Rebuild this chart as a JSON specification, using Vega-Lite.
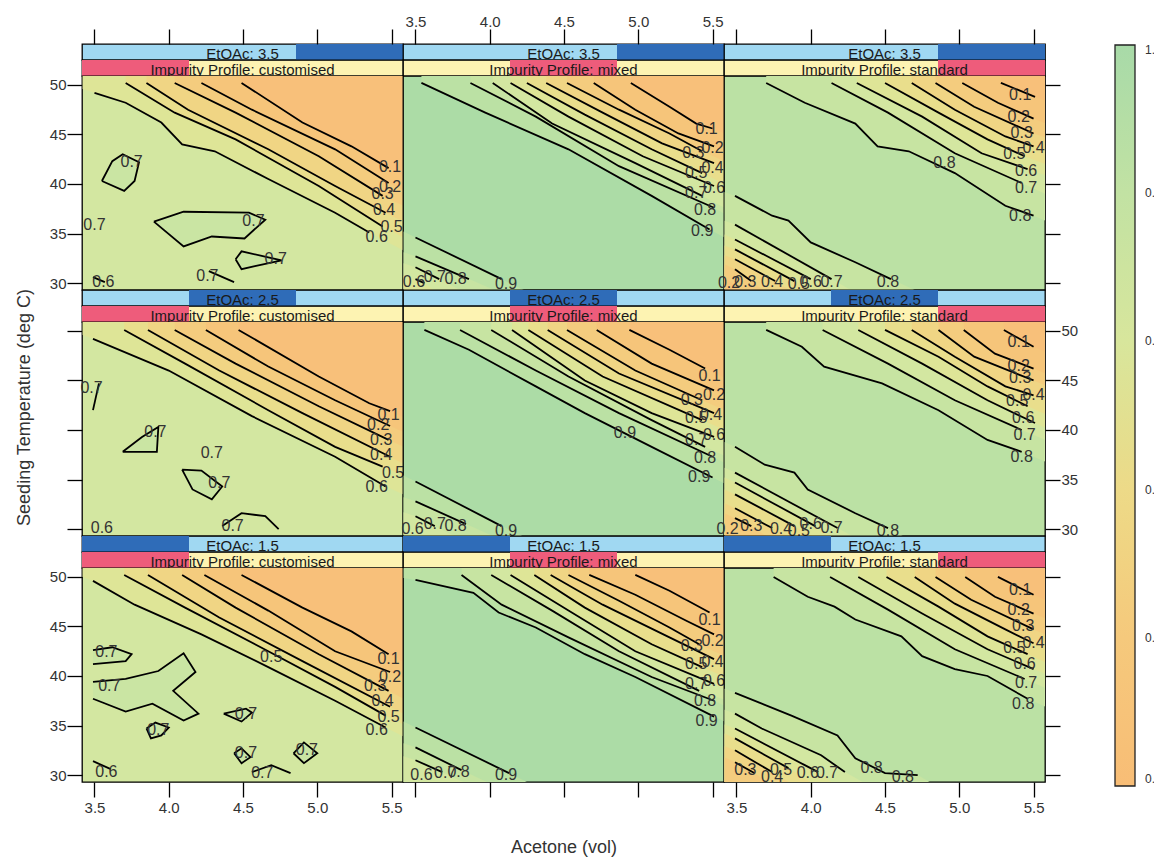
{
"$schema":"https://vega.github.io/schema/vega-lite/v6.json",
"padding":{"left":14,"top":13,"right":0,"bottom":0},
"background":"white",
"config":{
 "font":"Liberation Sans",
 "view":{"stroke":"black","strokeWidth":1.3},
 "axis":{"domain":false,"grid":false,"tickSize":15,"tickColor":"black","tickWidth":1.3,"labelFontSize":15,"labelColor":"#333","labelFont":"Liberation Sans","titleFont":"Liberation Sans","titleFontSize":18,"titleFontWeight":"normal","titleColor":"#333"}
},
"datasets":{
"st":[
{"p":"11","k":"E","lv":"3.5","lab":"EtOAc: 3.5"},{"p":"11","k":"I","lv":"customised","lab":"Impurity Profile: customised"},
{"p":"12","k":"E","lv":"3.5","lab":"EtOAc: 3.5"},{"p":"12","k":"I","lv":"mixed","lab":"Impurity Profile: mixed"},
{"p":"13","k":"E","lv":"3.5","lab":"EtOAc: 3.5"},{"p":"13","k":"I","lv":"standard","lab":"Impurity Profile: standard"},
{"p":"21","k":"E","lv":"2.5","lab":"EtOAc: 2.5"},{"p":"21","k":"I","lv":"customised","lab":"Impurity Profile: customised"},
{"p":"22","k":"E","lv":"2.5","lab":"EtOAc: 2.5"},{"p":"22","k":"I","lv":"mixed","lab":"Impurity Profile: mixed"},
{"p":"23","k":"E","lv":"2.5","lab":"EtOAc: 2.5"},{"p":"23","k":"I","lv":"standard","lab":"Impurity Profile: standard"},
{"p":"31","k":"E","lv":"1.5","lab":"EtOAc: 1.5"},{"p":"31","k":"I","lv":"customised","lab":"Impurity Profile: customised"},
{"p":"32","k":"E","lv":"1.5","lab":"EtOAc: 1.5"},{"p":"32","k":"I","lv":"mixed","lab":"Impurity Profile: mixed"},
{"p":"33","k":"E","lv":"1.5","lab":"EtOAc: 1.5"},{"p":"33","k":"I","lv":"standard","lab":"Impurity Profile: standard"}
],
"cb":[{"m":0},{"m":1}],
"c":[
{"p":"11","g":"a4","a":3.42,"t":49.6,"e":1},{"p":"11","g":"a4","a":3.5,"t":49.2},{"p":"11","g":"a4","a":3.71,"t":48.2},{"p":"11","g":"a4","a":3.95,"t":46.2},{"p":"11","g":"a4","a":4.09,"t":44.0},{"p":"11","g":"a4","a":4.31,"t":43.3},{"p":"11","g":"a4","a":4.67,"t":40.5},{"p":"11","g":"a4","a":5.12,"t":37.1},{"p":"11","g":"a4","a":5.35,"t":35.1},{"p":"11","g":"a4","a":5.58,"t":33.3,"e":1},
{"p":"11","g":"a5","a":3.71,"t":50.2},{"p":"11","g":"a5","a":4.04,"t":47.2},{"p":"11","g":"a5","a":4.45,"t":44.5},{"p":"11","g":"a5","a":5.01,"t":39.8},{"p":"11","g":"a5","a":5.44,"t":35.7},{"p":"11","g":"a5","a":5.58,"t":34.6,"e":1},
{"p":"11","g":"a6","a":3.85,"t":50.2},{"p":"11","g":"a6","a":4.13,"t":47.5},{"p":"11","g":"a6","a":4.67,"t":43.5},{"p":"11","g":"a6","a":5.12,"t":39.8},{"p":"11","g":"a6","a":5.46,"t":37.1},{"p":"11","g":"a6","a":5.58,"t":36.2,"e":1},
{"p":"11","g":"a7","a":4.04,"t":50.2},{"p":"11","g":"a7","a":4.45,"t":47.2},{"p":"11","g":"a7","a":5.01,"t":42.8},{"p":"11","g":"a7","a":5.44,"t":38.8},{"p":"11","g":"a7","a":5.58,"t":37.8,"e":1},
{"p":"11","g":"a8","a":4.22,"t":50.2},{"p":"11","g":"a8","a":4.56,"t":47.5},{"p":"11","g":"a8","a":5.12,"t":43.5},{"p":"11","g":"a8","a":5.48,"t":40.1},{"p":"11","g":"a8","a":5.58,"t":39.4,"e":1},
{"p":"11","g":"a9","a":4.49,"t":50.2},{"p":"11","g":"a9","a":4.9,"t":46.2},{"p":"11","g":"a9","a":5.23,"t":43.8},{"p":"11","g":"a9","a":5.48,"t":41.6},{"p":"11","g":"a9","a":5.58,"t":40.9,"e":1},

{"p":"12","g":"a1","a":3.54,"t":50.2},{"p":"12","g":"a1","a":3.97,"t":47.2},{"p":"12","g":"a1","a":4.53,"t":43.5},{"p":"12","g":"a1","a":5.09,"t":38.8},{"p":"12","g":"a1","a":5.48,"t":35.4},{"p":"12","g":"a1","a":5.58,"t":34.6,"e":1},
{"p":"12","g":"a2","a":3.87,"t":50.2},{"p":"12","g":"a2","a":4.31,"t":46.8},{"p":"12","g":"a2","a":4.87,"t":41.8},{"p":"12","g":"a2","a":5.51,"t":37.6},{"p":"12","g":"a2","a":5.58,"t":37.0,"e":1},
{"p":"12","g":"a3","a":4.02,"t":50.2},{"p":"12","g":"a3","a":4.42,"t":46.1},{"p":"12","g":"a3","a":4.98,"t":42.1},{"p":"12","g":"a3","a":5.43,"t":38.8},{"p":"12","g":"a3","a":5.58,"t":37.6,"e":1},
{"p":"12","g":"a4","a":4.14,"t":50.2},{"p":"12","g":"a4","a":4.53,"t":46.8},{"p":"12","g":"a4","a":5.03,"t":42.8},{"p":"12","g":"a4","a":5.51,"t":39.8},{"p":"12","g":"a4","a":5.58,"t":39.2,"e":1},
{"p":"12","g":"a5","a":4.25,"t":50.2},{"p":"12","g":"a5","a":4.64,"t":47.0},{"p":"12","g":"a5","a":5.09,"t":43.5},{"p":"12","g":"a5","a":5.43,"t":41.1},{"p":"12","g":"a5","a":5.58,"t":40.0,"e":1},
{"p":"12","g":"a6","a":4.38,"t":50.2},{"p":"12","g":"a6","a":4.76,"t":47.2},{"p":"12","g":"a6","a":5.16,"t":44.1},{"p":"12","g":"a6","a":5.51,"t":42.1},{"p":"12","g":"a6","a":5.58,"t":41.6,"e":1},
{"p":"12","g":"a7","a":4.52,"t":50.2},{"p":"12","g":"a7","a":4.87,"t":47.5},{"p":"12","g":"a7","a":5.21,"t":45.1},{"p":"12","g":"a7","a":5.43,"t":43.3},{"p":"12","g":"a7","a":5.58,"t":42.3,"e":1},
{"p":"12","g":"a8","a":4.7,"t":50.2},{"p":"12","g":"a8","a":4.98,"t":47.5},{"p":"12","g":"a8","a":5.27,"t":45.1},{"p":"12","g":"a8","a":5.51,"t":43.8},{"p":"12","g":"a8","a":5.58,"t":43.3,"e":1},
{"p":"12","g":"a9","a":4.95,"t":50.2},{"p":"12","g":"a9","a":5.21,"t":47.8},{"p":"12","g":"a9","a":5.39,"t":46.1},{"p":"12","g":"a9","a":5.5,"t":45.6},{"p":"12","g":"a9","a":5.58,"t":45.1,"e":1},
{"p":"12","g":"b1","a":3.42,"t":35.2,"e":1},{"p":"12","g":"b1","a":3.5,"t":34.6},{"p":"12","g":"b1","a":4.08,"t":30.4},{"p":"12","g":"b1","a":4.23,"t":29.3,"e":1},
{"p":"12","g":"b2","a":3.42,"t":33.1,"e":1},{"p":"12","g":"b2","a":3.5,"t":32.7},{"p":"12","g":"b2","a":3.86,"t":30.4},{"p":"12","g":"b2","a":4.03,"t":29.3,"e":1},
{"p":"12","g":"b3","a":3.42,"t":32.0,"e":1},{"p":"12","g":"b3","a":3.5,"t":31.6},{"p":"12","g":"b3","a":3.66,"t":30.4},{"p":"12","g":"b3","a":3.8,"t":29.3,"e":1},
{"p":"12","g":"b4","a":3.42,"t":30.7,"e":1},{"p":"12","g":"b4","a":3.5,"t":30.4},{"p":"12","g":"b4","a":3.56,"t":30.0},{"p":"12","g":"b4","a":3.62,"t":29.3,"e":1},

{"p":"13","g":"a2","a":3.7,"t":50.2},{"p":"13","g":"a2","a":3.96,"t":48.2},{"p":"13","g":"a2","a":4.3,"t":46.1},{"p":"13","g":"a2","a":4.45,"t":43.8},{"p":"13","g":"a2","a":4.66,"t":43.3},{"p":"13","g":"a2","a":4.97,"t":41.1},{"p":"13","g":"a2","a":5.31,"t":37.8},{"p":"13","g":"a2","a":5.5,"t":36.8},{"p":"13","g":"a2","a":5.58,"t":36.3,"e":1},
{"p":"13","g":"a3","a":4.14,"t":50.2},{"p":"13","g":"a3","a":4.52,"t":47.2},{"p":"13","g":"a3","a":4.97,"t":43.1},{"p":"13","g":"a3","a":5.42,"t":40.1},{"p":"13","g":"a3","a":5.58,"t":39.0,"e":1},
{"p":"13","g":"a4","a":4.31,"t":50.2},{"p":"13","g":"a4","a":4.75,"t":46.8},{"p":"13","g":"a4","a":5.15,"t":43.1},{"p":"13","g":"a4","a":5.46,"t":41.5},{"p":"13","g":"a4","a":5.58,"t":40.9,"e":1},
{"p":"13","g":"a5","a":4.5,"t":50.2},{"p":"13","g":"a5","a":4.86,"t":47.2},{"p":"13","g":"a5","a":5.19,"t":44.5},{"p":"13","g":"a5","a":5.44,"t":42.8},{"p":"13","g":"a5","a":5.58,"t":42.0,"e":1},
{"p":"13","g":"a6","a":4.68,"t":50.2},{"p":"13","g":"a6","a":4.97,"t":47.5},{"p":"13","g":"a6","a":5.31,"t":44.8},{"p":"13","g":"a6","a":5.5,"t":43.8},{"p":"13","g":"a6","a":5.58,"t":43.4,"e":1},
{"p":"13","g":"a7","a":4.84,"t":50.2},{"p":"13","g":"a7","a":5.1,"t":47.8},{"p":"13","g":"a7","a":5.5,"t":45.1},{"p":"13","g":"a7","a":5.58,"t":44.7,"e":1},
{"p":"13","g":"a8","a":5.02,"t":50.2},{"p":"13","g":"a8","a":5.26,"t":48.2},{"p":"13","g":"a8","a":5.5,"t":46.6},{"p":"13","g":"a8","a":5.58,"t":46.1,"e":1},
{"p":"13","g":"a9","a":5.28,"t":50.2},{"p":"13","g":"a9","a":5.51,"t":48.8},{"p":"13","g":"a9","a":5.58,"t":48.4,"e":1},
{"p":"13","g":"b2","a":3.42,"t":39.2,"e":1},{"p":"13","g":"b2","a":3.49,"t":38.8},{"p":"13","g":"b2","a":3.74,"t":36.8},{"p":"13","g":"b2","a":3.85,"t":36.3},{"p":"13","g":"b2","a":4.0,"t":34.1},{"p":"13","g":"b2","a":4.3,"t":32.1},{"p":"13","g":"b2","a":4.54,"t":30.4},{"p":"13","g":"b2","a":4.7,"t":29.3,"e":1},
{"p":"13","g":"b3","a":3.42,"t":36.3,"e":1},{"p":"13","g":"b3","a":3.49,"t":35.9},{"p":"13","g":"b3","a":4.14,"t":30.4},{"p":"13","g":"b3","a":4.27,"t":29.3,"e":1},
{"p":"13","g":"b4","a":3.42,"t":34.9,"e":1},{"p":"13","g":"b4","a":3.49,"t":34.4},{"p":"13","g":"b4","a":4.0,"t":30.4},{"p":"13","g":"b4","a":4.14,"t":29.3,"e":1},
{"p":"13","g":"b5","a":3.42,"t":33.8,"e":1},{"p":"13","g":"b5","a":3.49,"t":33.4},{"p":"13","g":"b5","a":3.89,"t":30.2},{"p":"13","g":"b5","a":4.0,"t":29.3,"e":1},
{"p":"13","g":"b6","a":3.42,"t":32.8,"e":1},{"p":"13","g":"b6","a":3.49,"t":32.4},{"p":"13","g":"b6","a":3.76,"t":30.2},{"p":"13","g":"b6","a":3.86,"t":29.3,"e":1},
{"p":"13","g":"b7","a":3.42,"t":31.9,"e":1},{"p":"13","g":"b7","a":3.49,"t":31.4},{"p":"13","g":"b7","a":3.6,"t":30.2},{"p":"13","g":"b7","a":3.68,"t":29.3,"e":1},
{"p":"13","g":"b8","a":3.42,"t":30.6,"e":1},{"p":"13","g":"b8","a":3.46,"t":30.1},{"p":"13","g":"b8","a":3.52,"t":29.3,"e":1},

{"p":"21","g":"a4","a":3.42,"t":49.6,"e":1},{"p":"21","g":"a4","a":3.49,"t":49.2},{"p":"21","g":"a4","a":4.0,"t":46.0},{"p":"21","g":"a4","a":4.56,"t":41.4},{"p":"21","g":"a4","a":5.12,"t":37.3},{"p":"21","g":"a4","a":5.46,"t":34.3},{"p":"21","g":"a4","a":5.58,"t":33.5,"e":1},
{"p":"21","g":"a5","a":3.7,"t":50.1},{"p":"21","g":"a5","a":4.11,"t":46.7},{"p":"21","g":"a5","a":4.67,"t":42.0},{"p":"21","g":"a5","a":5.12,"t":38.3},{"p":"21","g":"a5","a":5.44,"t":36.3},{"p":"21","g":"a5","a":5.58,"t":35.4,"e":1},
{"p":"21","g":"a6","a":3.86,"t":50.1},{"p":"21","g":"a6","a":4.34,"t":46.0},{"p":"21","g":"a6","a":4.9,"t":41.7},{"p":"21","g":"a6","a":5.49,"t":37.3},{"p":"21","g":"a6","a":5.58,"t":36.6,"e":1},
{"p":"21","g":"a7","a":4.04,"t":50.1},{"p":"21","g":"a7","a":4.45,"t":46.7},{"p":"21","g":"a7","a":5.01,"t":42.4},{"p":"21","g":"a7","a":5.48,"t":39.0},{"p":"21","g":"a7","a":5.58,"t":38.3,"e":1},
{"p":"21","g":"a8","a":4.25,"t":50.1},{"p":"21","g":"a8","a":4.67,"t":46.4},{"p":"21","g":"a8","a":5.12,"t":43.0},{"p":"21","g":"a8","a":5.49,"t":40.4},{"p":"21","g":"a8","a":5.58,"t":39.8,"e":1},
{"p":"21","g":"a9","a":4.47,"t":50.1},{"p":"21","g":"a9","a":5.01,"t":45.4},{"p":"21","g":"a9","a":5.35,"t":42.7},{"p":"21","g":"a9","a":5.49,"t":41.9},{"p":"21","g":"a9","a":5.58,"t":41.3,"e":1},

{"p":"22","g":"a1","a":3.56,"t":50.1},{"p":"22","g":"a1","a":3.86,"t":48.1},{"p":"22","g":"a1","a":4.31,"t":44.4},{"p":"22","g":"a1","a":4.64,"t":41.7},{"p":"22","g":"a1","a":5.09,"t":38.3},{"p":"22","g":"a1","a":5.5,"t":35.2},{"p":"22","g":"a1","a":5.58,"t":34.6,"e":1},
{"p":"22","g":"a2","a":3.8,"t":50.1},{"p":"22","g":"a2","a":4.31,"t":46.0},{"p":"22","g":"a2","a":4.87,"t":41.7},{"p":"22","g":"a2","a":5.5,"t":37.3},{"p":"22","g":"a2","a":5.58,"t":36.7,"e":1},
{"p":"22","g":"a3","a":4.01,"t":50.1},{"p":"22","g":"a3","a":4.53,"t":45.4},{"p":"22","g":"a3","a":5.09,"t":41.0},{"p":"22","g":"a3","a":5.45,"t":38.3},{"p":"22","g":"a3","a":5.58,"t":37.4,"e":1},
{"p":"22","g":"a4","a":4.15,"t":50.1},{"p":"22","g":"a4","a":4.64,"t":45.0},{"p":"22","g":"a4","a":5.09,"t":41.7},{"p":"22","g":"a4","a":5.51,"t":39.3},{"p":"22","g":"a4","a":5.58,"t":38.8,"e":1},
{"p":"22","g":"a5","a":4.26,"t":50.1},{"p":"22","g":"a5","a":4.76,"t":45.4},{"p":"22","g":"a5","a":5.43,"t":41.0},{"p":"22","g":"a5","a":5.58,"t":40.0,"e":1},
{"p":"22","g":"a6","a":4.39,"t":50.1},{"p":"22","g":"a6","a":4.87,"t":45.7},{"p":"22","g":"a6","a":5.51,"t":41.7},{"p":"22","g":"a6","a":5.58,"t":41.2,"e":1},
{"p":"22","g":"a7","a":4.52,"t":50.1},{"p":"22","g":"a7","a":4.98,"t":46.0},{"p":"22","g":"a7","a":5.43,"t":43.0},{"p":"22","g":"a7","a":5.58,"t":42.0,"e":1},
{"p":"22","g":"a8","a":4.72,"t":50.1},{"p":"22","g":"a8","a":5.09,"t":46.7},{"p":"22","g":"a8","a":5.51,"t":44.0},{"p":"22","g":"a8","a":5.58,"t":43.5,"e":1},
{"p":"22","g":"a9","a":4.94,"t":50.1},{"p":"22","g":"a9","a":5.21,"t":48.1},{"p":"22","g":"a9","a":5.45,"t":46.2},{"p":"22","g":"a9","a":5.58,"t":45.3,"e":1},
{"p":"22","g":"b1","a":3.42,"t":35.4,"e":1},{"p":"22","g":"b1","a":3.5,"t":34.8},{"p":"22","g":"b1","a":4.08,"t":30.3},{"p":"22","g":"b1","a":4.22,"t":29.3,"e":1},
{"p":"22","g":"b2","a":3.42,"t":33.2,"e":1},{"p":"22","g":"b2","a":3.5,"t":32.8},{"p":"22","g":"b2","a":3.84,"t":30.5},{"p":"22","g":"b2","a":4.02,"t":29.3,"e":1},
{"p":"22","g":"b3","a":3.42,"t":31.7,"e":1},{"p":"22","g":"b3","a":3.5,"t":31.3},{"p":"22","g":"b3","a":3.63,"t":30.3},{"p":"22","g":"b3","a":3.76,"t":29.3,"e":1},

{"p":"23","g":"a2","a":3.7,"t":50.1},{"p":"23","g":"a2","a":3.94,"t":48.4},{"p":"23","g":"a2","a":4.09,"t":46.4},{"p":"23","g":"a2","a":4.48,"t":44.7},{"p":"23","g":"a2","a":4.86,"t":42.0},{"p":"23","g":"a2","a":5.19,"t":39.0},{"p":"23","g":"a2","a":5.42,"t":37.8},{"p":"23","g":"a2","a":5.58,"t":36.8,"e":1},
{"p":"23","g":"a3","a":4.08,"t":50.1},{"p":"23","g":"a3","a":4.52,"t":46.7},{"p":"23","g":"a3","a":4.97,"t":43.0},{"p":"23","g":"a3","a":5.42,"t":40.0},{"p":"23","g":"a3","a":5.58,"t":39.0,"e":1},
{"p":"23","g":"a4","a":4.32,"t":50.1},{"p":"23","g":"a4","a":4.75,"t":46.7},{"p":"23","g":"a4","a":5.19,"t":43.0},{"p":"23","g":"a4","a":5.51,"t":40.7},{"p":"23","g":"a4","a":5.58,"t":40.2,"e":1},
{"p":"23","g":"a5","a":4.5,"t":50.1},{"p":"23","g":"a5","a":4.86,"t":47.4},{"p":"23","g":"a5","a":5.19,"t":44.4},{"p":"23","g":"a5","a":5.46,"t":42.4},{"p":"23","g":"a5","a":5.58,"t":41.6,"e":1},
{"p":"23","g":"a6","a":4.68,"t":50.1},{"p":"23","g":"a6","a":4.97,"t":47.4},{"p":"23","g":"a6","a":5.31,"t":44.4},{"p":"23","g":"a6","a":5.5,"t":43.5},{"p":"23","g":"a6","a":5.58,"t":43.1,"e":1},
{"p":"23","g":"a7","a":4.86,"t":50.1},{"p":"23","g":"a7","a":5.1,"t":47.4},{"p":"23","g":"a7","a":5.5,"t":45.0},{"p":"23","g":"a7","a":5.58,"t":44.5,"e":1},
{"p":"23","g":"a8","a":5.03,"t":50.1},{"p":"23","g":"a8","a":5.24,"t":47.7},{"p":"23","g":"a8","a":5.5,"t":46.2},{"p":"23","g":"a8","a":5.58,"t":45.7,"e":1},
{"p":"23","g":"a9","a":5.3,"t":50.1},{"p":"23","g":"a9","a":5.5,"t":48.4},{"p":"23","g":"a9","a":5.58,"t":47.9,"e":1},
{"p":"23","g":"b2","a":3.42,"t":38.8,"e":1},{"p":"23","g":"b2","a":3.49,"t":38.3},{"p":"23","g":"b2","a":3.69,"t":36.5},{"p":"23","g":"b2","a":3.89,"t":35.7},{"p":"23","g":"b2","a":3.98,"t":34.0},{"p":"23","g":"b2","a":4.3,"t":31.6},{"p":"23","g":"b2","a":4.52,"t":30.1},{"p":"23","g":"b2","a":4.62,"t":29.3,"e":1},
{"p":"23","g":"b3","a":3.42,"t":36.2,"e":1},{"p":"23","g":"b3","a":3.49,"t":35.7},{"p":"23","g":"b3","a":4.18,"t":30.1},{"p":"23","g":"b3","a":4.28,"t":29.3,"e":1},
{"p":"23","g":"b4","a":3.42,"t":35.2,"e":1},{"p":"23","g":"b4","a":3.49,"t":34.7},{"p":"23","g":"b4","a":4.03,"t":30.3},{"p":"23","g":"b4","a":4.15,"t":29.3,"e":1},
{"p":"23","g":"b5","a":3.42,"t":34.0,"e":1},{"p":"23","g":"b5","a":3.49,"t":33.5},{"p":"23","g":"b5","a":3.89,"t":30.3},{"p":"23","g":"b5","a":4.01,"t":29.3,"e":1},
{"p":"23","g":"b6","a":3.42,"t":32.6,"e":1},{"p":"23","g":"b6","a":3.49,"t":32.1},{"p":"23","g":"b6","a":3.74,"t":30.1},{"p":"23","g":"b6","a":3.84,"t":29.3,"e":1},
{"p":"23","g":"b7","a":3.42,"t":31.6,"e":1},{"p":"23","g":"b7","a":3.49,"t":31.1},{"p":"23","g":"b7","a":3.6,"t":30.3},{"p":"23","g":"b7","a":3.7,"t":29.3,"e":1},

{"p":"31","g":"a4","a":3.42,"t":50.0,"e":1},{"p":"31","g":"a4","a":3.49,"t":49.6},{"p":"31","g":"a4","a":3.77,"t":47.2},{"p":"31","g":"a4","a":4.22,"t":44.2},{"p":"31","g":"a4","a":4.67,"t":40.9},{"p":"31","g":"a4","a":5.12,"t":37.5},{"p":"31","g":"a4","a":5.46,"t":34.8},{"p":"31","g":"a4","a":5.58,"t":33.9,"e":1},
{"p":"31","g":"a5","a":3.7,"t":50.2},{"p":"31","g":"a5","a":4.11,"t":46.9},{"p":"31","g":"a5","a":4.67,"t":42.5},{"p":"31","g":"a5","a":5.12,"t":38.9},{"p":"31","g":"a5","a":5.46,"t":36.0},{"p":"31","g":"a5","a":5.58,"t":35.1,"e":1},
{"p":"31","g":"a6","a":3.86,"t":50.2},{"p":"31","g":"a6","a":4.34,"t":45.9},{"p":"31","g":"a6","a":4.9,"t":41.5},{"p":"31","g":"a6","a":5.49,"t":36.9},{"p":"31","g":"a6","a":5.58,"t":36.2,"e":1},
{"p":"31","g":"a7","a":4.09,"t":50.2},{"p":"31","g":"a7","a":4.45,"t":46.9},{"p":"31","g":"a7","a":5.01,"t":42.2},{"p":"31","g":"a7","a":5.48,"t":38.5},{"p":"31","g":"a7","a":5.58,"t":37.7,"e":1},
{"p":"31","g":"a8","a":4.24,"t":50.2},{"p":"31","g":"a8","a":4.67,"t":46.6},{"p":"31","g":"a8","a":5.12,"t":42.5},{"p":"31","g":"a8","a":5.49,"t":40.4},{"p":"31","g":"a8","a":5.58,"t":39.8,"e":1},
{"p":"31","g":"a9","a":4.49,"t":50.2},{"p":"31","g":"a9","a":4.9,"t":46.9},{"p":"31","g":"a9","a":5.23,"t":44.5},{"p":"31","g":"a9","a":5.48,"t":42.2},{"p":"31","g":"a9","a":5.58,"t":41.4,"e":1},

{"p":"32","g":"a1","a":3.42,"t":49.9,"e":1},{"p":"32","g":"a1","a":3.5,"t":49.7},{"p":"32","g":"a1","a":3.89,"t":48.4},{"p":"32","g":"a1","a":4.06,"t":46.4},{"p":"32","g":"a1","a":4.31,"t":44.9},{"p":"32","g":"a1","a":4.64,"t":42.2},{"p":"32","g":"a1","a":4.98,"t":39.9},{"p":"32","g":"a1","a":5.51,"t":35.9},{"p":"32","g":"a1","a":5.58,"t":35.4,"e":1},
{"p":"32","g":"a2","a":3.81,"t":50.2},{"p":"32","g":"a2","a":4.08,"t":47.2},{"p":"32","g":"a2","a":4.53,"t":43.9},{"p":"32","g":"a2","a":5.09,"t":39.9},{"p":"32","g":"a2","a":5.51,"t":37.5},{"p":"32","g":"a2","a":5.58,"t":37.0,"e":1},
{"p":"32","g":"a3","a":4.01,"t":50.2},{"p":"32","g":"a3","a":4.42,"t":46.6},{"p":"32","g":"a3","a":4.87,"t":42.5},{"p":"32","g":"a3","a":5.41,"t":38.5},{"p":"32","g":"a3","a":5.58,"t":37.6,"e":1},
{"p":"32","g":"a4","a":4.14,"t":50.2},{"p":"32","g":"a4","a":4.53,"t":46.6},{"p":"32","g":"a4","a":4.98,"t":42.5},{"p":"32","g":"a4","a":5.51,"t":39.2},{"p":"32","g":"a4","a":5.58,"t":38.7,"e":1},
{"p":"32","g":"a5","a":4.3,"t":50.2},{"p":"32","g":"a5","a":4.64,"t":46.9},{"p":"32","g":"a5","a":5.09,"t":43.2},{"p":"32","g":"a5","a":5.43,"t":40.9},{"p":"32","g":"a5","a":5.58,"t":39.9,"e":1},
{"p":"32","g":"a6","a":4.41,"t":50.2},{"p":"32","g":"a6","a":4.76,"t":47.2},{"p":"32","g":"a6","a":5.21,"t":43.9},{"p":"32","g":"a6","a":5.51,"t":41.7},{"p":"32","g":"a6","a":5.58,"t":41.2,"e":1},
{"p":"32","g":"a7","a":4.53,"t":50.2},{"p":"32","g":"a7","a":4.87,"t":47.6},{"p":"32","g":"a7","a":5.21,"t":44.9},{"p":"32","g":"a7","a":5.41,"t":43.2},{"p":"32","g":"a7","a":5.58,"t":42.0,"e":1},
{"p":"32","g":"a8","a":4.67,"t":50.2},{"p":"32","g":"a8","a":4.98,"t":48.2},{"p":"32","g":"a8","a":5.32,"t":45.6},{"p":"32","g":"a8","a":5.51,"t":44.2},{"p":"32","g":"a8","a":5.58,"t":43.7,"e":1},
{"p":"32","g":"a9","a":4.98,"t":50.2},{"p":"32","g":"a9","a":5.21,"t":48.6},{"p":"32","g":"a9","a":5.48,"t":46.4},{"p":"32","g":"a9","a":5.58,"t":45.6,"e":1},
{"p":"32","g":"b1","a":3.42,"t":35.4,"e":1},{"p":"32","g":"b1","a":3.5,"t":34.8},{"p":"32","g":"b1","a":4.13,"t":30.2},{"p":"32","g":"b1","a":4.25,"t":29.3,"e":1},
{"p":"32","g":"b2","a":3.42,"t":33.2,"e":1},{"p":"32","g":"b2","a":3.5,"t":32.8},{"p":"32","g":"b2","a":3.81,"t":30.5},{"p":"32","g":"b2","a":3.98,"t":29.3,"e":1},
{"p":"32","g":"b3","a":3.42,"t":31.9,"e":1},{"p":"32","g":"b3","a":3.5,"t":31.5},{"p":"32","g":"b3","a":3.68,"t":30.3},{"p":"32","g":"b3","a":3.82,"t":29.3,"e":1},

{"p":"33","g":"a2","a":3.75,"t":50.0},{"p":"33","g":"a2","a":3.98,"t":48.0},{"p":"33","g":"a2","a":4.16,"t":47.0},{"p":"33","g":"a2","a":4.3,"t":45.7},{"p":"33","g":"a2","a":4.61,"t":44.0},{"p":"33","g":"a2","a":4.75,"t":42.0},{"p":"33","g":"a2","a":4.97,"t":40.7},{"p":"33","g":"a2","a":5.19,"t":40.0},{"p":"33","g":"a2","a":5.46,"t":37.7},{"p":"33","g":"a2","a":5.58,"t":36.9,"e":1},
{"p":"33","g":"a3","a":4.13,"t":50.0},{"p":"33","g":"a3","a":4.52,"t":46.7},{"p":"33","g":"a3","a":4.97,"t":42.7},{"p":"33","g":"a3","a":5.44,"t":39.7},{"p":"33","g":"a3","a":5.58,"t":38.8,"e":1},
{"p":"33","g":"a4","a":4.32,"t":50.0},{"p":"33","g":"a4","a":4.75,"t":46.3},{"p":"33","g":"a4","a":5.19,"t":42.7},{"p":"33","g":"a4","a":5.5,"t":40.7},{"p":"33","g":"a4","a":5.58,"t":40.2,"e":1},
{"p":"33","g":"a5","a":4.51,"t":50.0},{"p":"33","g":"a5","a":4.86,"t":47.0},{"p":"33","g":"a5","a":5.19,"t":44.0},{"p":"33","g":"a5","a":5.46,"t":42.2},{"p":"33","g":"a5","a":5.58,"t":41.4,"e":1},
{"p":"33","g":"a6","a":4.7,"t":50.0},{"p":"33","g":"a6","a":4.97,"t":47.3},{"p":"33","g":"a6","a":5.31,"t":44.7},{"p":"33","g":"a6","a":5.5,"t":43.3},{"p":"33","g":"a6","a":5.58,"t":42.8,"e":1},
{"p":"33","g":"a7","a":4.84,"t":50.0},{"p":"33","g":"a7","a":5.08,"t":47.7},{"p":"33","g":"a7","a":5.5,"t":44.7},{"p":"33","g":"a7","a":5.58,"t":44.2,"e":1},
{"p":"33","g":"a8","a":5.04,"t":50.0},{"p":"33","g":"a8","a":5.24,"t":48.0},{"p":"33","g":"a8","a":5.5,"t":46.3},{"p":"33","g":"a8","a":5.58,"t":45.8,"e":1},
{"p":"33","g":"a9","a":5.26,"t":50.0},{"p":"33","g":"a9","a":5.5,"t":48.2},{"p":"33","g":"a9","a":5.58,"t":47.7,"e":1},
{"p":"33","g":"b2","a":3.42,"t":38.7,"e":1},{"p":"33","g":"b2","a":3.49,"t":38.3},{"p":"33","g":"b2","a":3.87,"t":36.0},{"p":"33","g":"b2","a":4.18,"t":34.0},{"p":"33","g":"b2","a":4.3,"t":31.7},{"p":"33","g":"b2","a":4.5,"t":30.2},{"p":"33","g":"b2","a":4.72,"t":30.0},{"p":"33","g":"b2","a":4.8,"t":29.3,"e":1},
{"p":"33","g":"b3","a":3.42,"t":36.6,"e":1},{"p":"33","g":"b3","a":3.49,"t":36.2},{"p":"33","g":"b3","a":3.67,"t":34.7},{"p":"33","g":"b3","a":4.07,"t":32.0},{"p":"33","g":"b3","a":4.23,"t":30.3},{"p":"33","g":"b3","a":4.35,"t":29.3,"e":1},
{"p":"33","g":"b4","a":3.42,"t":35.1,"e":1},{"p":"33","g":"b4","a":3.49,"t":34.7},{"p":"33","g":"b4","a":3.96,"t":31.0},{"p":"33","g":"b4","a":4.05,"t":30.3},{"p":"33","g":"b4","a":4.14,"t":29.3,"e":1},
{"p":"33","g":"b5","a":3.42,"t":34.2,"e":1},{"p":"33","g":"b5","a":3.49,"t":33.7},{"p":"33","g":"b5","a":3.85,"t":30.7},{"p":"33","g":"b5","a":4.0,"t":29.3,"e":1},
{"p":"33","g":"b6","a":3.42,"t":32.9,"e":1},{"p":"33","g":"b6","a":3.49,"t":32.5},{"p":"33","g":"b6","a":3.74,"t":30.3},{"p":"33","g":"b6","a":3.85,"t":29.3,"e":1},
{"p":"33","g":"b7","a":3.42,"t":31.8,"e":1},{"p":"33","g":"b7","a":3.49,"t":31.3},{"p":"33","g":"b7","a":3.62,"t":30.2},{"p":"33","g":"b7","a":3.71,"t":29.3,"e":1}
],
"s":[
{"p":"11","g":"i1","k":"c","a":3.55,"t":40.3},{"p":"11","g":"i1","k":"c","a":3.62,"t":42.3},{"p":"11","g":"i1","k":"c","a":3.69,"t":43.0},{"p":"11","g":"i1","k":"c","a":3.8,"t":42.2},{"p":"11","g":"i1","k":"c","a":3.77,"t":40.3},{"p":"11","g":"i1","k":"c","a":3.7,"t":39.3},{"p":"11","g":"i1","k":"c","a":3.55,"t":40.3},
{"p":"11","g":"i2","k":"c","a":3.9,"t":36.2},{"p":"11","g":"i2","k":"c","a":4.1,"t":37.2},{"p":"11","g":"i2","k":"c","a":4.54,"t":37.1},{"p":"11","g":"i2","k":"c","a":4.65,"t":36.4},{"p":"11","g":"i2","k":"c","a":4.51,"t":34.5},{"p":"11","g":"i2","k":"c","a":4.29,"t":34.7},{"p":"11","g":"i2","k":"c","a":4.1,"t":33.7},{"p":"11","g":"i2","k":"c","a":3.9,"t":36.2},
{"p":"11","g":"i3","k":"c","a":4.45,"t":32.4},{"p":"11","g":"i3","k":"c","a":4.49,"t":33.2},{"p":"11","g":"i3","k":"c","a":4.67,"t":32.6},{"p":"11","g":"i3","k":"c","a":4.76,"t":32.3},{"p":"11","g":"i3","k":"c","a":4.58,"t":31.7},{"p":"11","g":"i3","k":"c","a":4.49,"t":31.4},{"p":"11","g":"i3","k":"c","a":4.45,"t":32.4},
{"p":"11","g":"o1","k":"o","a":4.27,"t":31.2},{"p":"11","g":"o1","k":"o","a":4.44,"t":30.1},
{"p":"11","g":"o2","k":"o","a":3.49,"t":30.6},{"p":"11","g":"o2","k":"o","a":3.57,"t":30.1},
{"p":"21","g":"i1","k":"c","a":3.69,"t":37.8},{"p":"21","g":"i1","k":"c","a":3.82,"t":39.3},{"p":"21","g":"i1","k":"c","a":3.93,"t":40.3},{"p":"21","g":"i1","k":"c","a":3.92,"t":37.8},{"p":"21","g":"i1","k":"c","a":3.69,"t":37.8},
{"p":"21","g":"i2","k":"c","a":4.09,"t":36.0},{"p":"21","g":"i2","k":"c","a":4.22,"t":35.9},{"p":"21","g":"i2","k":"c","a":4.36,"t":34.3},{"p":"21","g":"i2","k":"c","a":4.29,"t":33.0},{"p":"21","g":"i2","k":"c","a":4.16,"t":34.0},{"p":"21","g":"i2","k":"c","a":4.09,"t":36.0},
{"p":"21","g":"o1","k":"o","a":3.53,"t":44.7},{"p":"21","g":"o1","k":"o","a":3.49,"t":42.0},
{"p":"21","g":"o2","k":"o","a":4.36,"t":30.3},{"p":"21","g":"o2","k":"o","a":4.49,"t":31.6},{"p":"21","g":"o2","k":"o","a":4.65,"t":31.3},{"p":"21","g":"o2","k":"o","a":4.74,"t":30.0},
{"p":"31","g":"i1","k":"c","a":3.49,"t":39.4},{"p":"31","g":"i1","k":"c","a":3.71,"t":39.7},{"p":"31","g":"i1","k":"c","a":3.93,"t":40.5},{"p":"31","g":"i1","k":"c","a":4.1,"t":42.3},{"p":"31","g":"i1","k":"c","a":4.18,"t":40.4},{"p":"31","g":"i1","k":"c","a":4.03,"t":38.5},{"p":"31","g":"i1","k":"c","a":4.2,"t":36.2},{"p":"31","g":"i1","k":"c","a":4.1,"t":35.5},{"p":"31","g":"i1","k":"c","a":3.89,"t":37.2},{"p":"31","g":"i1","k":"c","a":3.71,"t":36.4},{"p":"31","g":"i1","k":"c","a":3.49,"t":37.7},
{"p":"31","g":"i2","k":"c","a":3.49,"t":42.6},{"p":"31","g":"i2","k":"c","a":3.62,"t":42.9},{"p":"31","g":"i2","k":"c","a":3.75,"t":42.2},{"p":"31","g":"i2","k":"c","a":3.71,"t":41.5},{"p":"31","g":"i2","k":"c","a":3.49,"t":41.2},
{"p":"31","g":"i3","k":"c","a":3.85,"t":34.7},{"p":"31","g":"i3","k":"c","a":3.91,"t":35.3},{"p":"31","g":"i3","k":"c","a":4.0,"t":34.8},{"p":"31","g":"i3","k":"c","a":3.95,"t":34.0},{"p":"31","g":"i3","k":"c","a":3.88,"t":33.7},{"p":"31","g":"i3","k":"c","a":3.85,"t":34.7},
{"p":"31","g":"i4","k":"c","a":4.37,"t":36.2},{"p":"31","g":"i4","k":"c","a":4.52,"t":36.7},{"p":"31","g":"i4","k":"c","a":4.56,"t":36.3},{"p":"31","g":"i4","k":"c","a":4.49,"t":35.4},{"p":"31","g":"i4","k":"c","a":4.37,"t":36.2},
{"p":"31","g":"i5","k":"c","a":4.44,"t":32.2},{"p":"31","g":"i5","k":"c","a":4.49,"t":32.7},{"p":"31","g":"i5","k":"c","a":4.55,"t":31.8},{"p":"31","g":"i5","k":"c","a":4.49,"t":31.2},{"p":"31","g":"i5","k":"c","a":4.44,"t":32.2},
{"p":"31","g":"i6","k":"c","a":4.84,"t":32.2},{"p":"31","g":"i6","k":"c","a":4.91,"t":33.3},{"p":"31","g":"i6","k":"c","a":5.0,"t":32.2},{"p":"31","g":"i6","k":"c","a":4.91,"t":31.2},{"p":"31","g":"i6","k":"c","a":4.84,"t":32.2},
{"p":"31","g":"o1","k":"o","a":4.56,"t":30.3},{"p":"31","g":"o1","k":"o","a":4.69,"t":31.0},{"p":"31","g":"o1","k":"o","a":4.82,"t":30.2},
{"p":"31","g":"o2","k":"o","a":3.49,"t":31.4},{"p":"31","g":"o2","k":"o","a":3.61,"t":30.6}
],
"l":[
{"p":"11","a":5.49,"t":41.7,"s":"0.1"},{"p":"11","a":5.49,"t":39.7,"s":"0.2"},{"p":"11","a":5.44,"t":39.0,"s":"0.3"},{"p":"11","a":5.45,"t":37.4,"s":"0.4"},{"p":"11","a":5.5,"t":35.7,"s":"0.5"},{"p":"11","a":5.4,"t":34.6,"s":"0.6"},{"p":"11","a":3.75,"t":42.2,"s":"0.7"},{"p":"11","a":4.57,"t":36.3,"s":"0.7"},{"p":"11","a":4.72,"t":32.4,"s":"0.7"},{"p":"11","a":3.5,"t":35.9,"s":"0.7"},{"p":"11","a":4.26,"t":30.7,"s":"0.7"},{"p":"11","a":3.56,"t":30.1,"s":"0.6"},
{"p":"12","a":5.46,"t":45.6,"s":"0.1"},{"p":"12","a":5.5,"t":43.6,"s":"0.2"},{"p":"12","a":5.37,"t":43.1,"s":"0.3"},{"p":"12","a":5.5,"t":41.6,"s":"0.4"},{"p":"12","a":5.39,"t":41.1,"s":"0.5"},{"p":"12","a":5.51,"t":39.6,"s":"0.6"},{"p":"12","a":5.39,"t":39.1,"s":"0.7"},{"p":"12","a":5.45,"t":37.4,"s":"0.8"},{"p":"12","a":5.43,"t":35.3,"s":"0.9"},{"p":"12","a":4.11,"t":29.9,"s":"0.9"},{"p":"12","a":3.77,"t":30.4,"s":"0.8"},{"p":"12","a":3.63,"t":30.6,"s":"0.7"},{"p":"12","a":3.49,"t":30.1,"s":"0.6"},
{"p":"13","a":5.41,"t":49.0,"s":"0.1"},{"p":"13","a":5.4,"t":46.8,"s":"0.2"},{"p":"13","a":5.42,"t":45.1,"s":"0.3"},{"p":"13","a":5.5,"t":43.6,"s":"0.4"},{"p":"13","a":5.37,"t":43.0,"s":"0.5"},{"p":"13","a":5.45,"t":41.3,"s":"0.6"},{"p":"13","a":5.45,"t":39.6,"s":"0.7"},{"p":"13","a":5.41,"t":36.8,"s":"0.8"},{"p":"13","a":4.9,"t":42.1,"s":"0.8"},{"p":"13","a":4.52,"t":30.1,"s":"0.8"},{"p":"13","a":4.14,"t":30.1,"s":"0.7"},{"p":"13","a":4.0,"t":30.1,"s":"0.6"},{"p":"13","a":3.92,"t":29.9,"s":"0.5"},{"p":"13","a":3.74,"t":30.1,"s":"0.4"},{"p":"13","a":3.56,"t":30.1,"s":"0.3"},{"p":"13","a":3.45,"t":30.0,"s":"0.2"},
{"p":"21","a":5.48,"t":41.5,"s":"0.1"},{"p":"21","a":5.41,"t":40.5,"s":"0.2"},{"p":"21","a":5.43,"t":39.0,"s":"0.3"},{"p":"21","a":5.43,"t":37.5,"s":"0.4"},{"p":"21","a":5.51,"t":35.7,"s":"0.5"},{"p":"21","a":5.4,"t":34.2,"s":"0.6"},{"p":"21","a":3.91,"t":39.8,"s":"0.7"},{"p":"21","a":4.34,"t":34.7,"s":"0.7"},{"p":"21","a":4.29,"t":37.7,"s":"0.7"},{"p":"21","a":3.48,"t":44.2,"s":"0.7"},{"p":"21","a":4.43,"t":30.3,"s":"0.7"},{"p":"21","a":3.55,"t":30.1,"s":"0.6"},
{"p":"22","a":5.48,"t":45.4,"s":"0.1"},{"p":"22","a":5.51,"t":43.5,"s":"0.2"},{"p":"22","a":5.36,"t":43.0,"s":"0.3"},{"p":"22","a":5.49,"t":41.5,"s":"0.4"},{"p":"22","a":5.39,"t":41.2,"s":"0.5"},{"p":"22","a":5.51,"t":39.5,"s":"0.6"},{"p":"22","a":5.39,"t":39.0,"s":"0.7"},{"p":"22","a":5.45,"t":37.2,"s":"0.8"},{"p":"22","a":5.41,"t":35.3,"s":"0.9"},{"p":"22","a":4.91,"t":39.7,"s":"0.9"},{"p":"22","a":4.11,"t":29.8,"s":"0.9"},{"p":"22","a":3.77,"t":30.3,"s":"0.8"},{"p":"22","a":3.63,"t":30.5,"s":"0.7"},{"p":"22","a":3.48,"t":30.0,"s":"0.6"},
{"p":"23","a":5.4,"t":48.9,"s":"0.1"},{"p":"23","a":5.4,"t":46.5,"s":"0.2"},{"p":"23","a":5.41,"t":45.2,"s":"0.3"},{"p":"23","a":5.5,"t":43.5,"s":"0.4"},{"p":"23","a":5.39,"t":42.9,"s":"0.5"},{"p":"23","a":5.43,"t":41.2,"s":"0.6"},{"p":"23","a":5.44,"t":39.5,"s":"0.7"},{"p":"23","a":5.42,"t":37.3,"s":"0.8"},{"p":"23","a":4.52,"t":29.8,"s":"0.8"},{"p":"23","a":4.14,"t":30.1,"s":"0.7"},{"p":"23","a":4.0,"t":30.5,"s":"0.6"},{"p":"23","a":3.92,"t":29.8,"s":"0.5"},{"p":"23","a":3.8,"t":30.0,"s":"0.4"},{"p":"23","a":3.6,"t":30.3,"s":"0.3"},{"p":"23","a":3.44,"t":30.0,"s":"0.2"},
{"p":"31","a":5.48,"t":41.7,"s":"0.1"},{"p":"31","a":5.49,"t":39.9,"s":"0.2"},{"p":"31","a":5.39,"t":39.0,"s":"0.3"},{"p":"31","a":5.44,"t":37.5,"s":"0.4"},{"p":"31","a":5.48,"t":35.9,"s":"0.5"},{"p":"31","a":5.4,"t":34.5,"s":"0.6"},{"p":"31","a":4.69,"t":41.9,"s":"0.5"},{"p":"31","a":3.58,"t":42.4,"s":"0.7"},{"p":"31","a":3.6,"t":39.0,"s":"0.7"},{"p":"31","a":3.93,"t":34.5,"s":"0.7"},{"p":"31","a":4.52,"t":36.2,"s":"0.7"},{"p":"31","a":4.52,"t":32.2,"s":"0.7"},{"p":"31","a":4.93,"t":32.5,"s":"0.7"},{"p":"31","a":4.63,"t":30.2,"s":"0.7"},{"p":"31","a":3.58,"t":30.3,"s":"0.6"},
{"p":"32","a":5.48,"t":45.7,"s":"0.1"},{"p":"32","a":5.5,"t":43.5,"s":"0.2"},{"p":"32","a":5.36,"t":43.0,"s":"0.3"},{"p":"32","a":5.5,"t":41.4,"s":"0.4"},{"p":"32","a":5.39,"t":41.2,"s":"0.5"},{"p":"32","a":5.51,"t":39.5,"s":"0.6"},{"p":"32","a":5.39,"t":39.2,"s":"0.7"},{"p":"32","a":5.45,"t":37.5,"s":"0.8"},{"p":"32","a":5.46,"t":35.5,"s":"0.9"},{"p":"32","a":4.11,"t":30.0,"s":"0.9"},{"p":"32","a":3.79,"t":30.3,"s":"0.8"},{"p":"32","a":3.7,"t":30.2,"s":"0.7"},{"p":"32","a":3.54,"t":30.0,"s":"0.6"},
{"p":"33","a":5.41,"t":48.7,"s":"0.1"},{"p":"33","a":5.4,"t":46.7,"s":"0.2"},{"p":"33","a":5.43,"t":45.0,"s":"0.3"},{"p":"33","a":5.5,"t":43.3,"s":"0.4"},{"p":"33","a":5.37,"t":42.8,"s":"0.5"},{"p":"33","a":5.44,"t":41.2,"s":"0.6"},{"p":"33","a":5.45,"t":39.3,"s":"0.7"},{"p":"33","a":5.43,"t":37.2,"s":"0.8"},{"p":"33","a":4.41,"t":30.7,"s":"0.8"},{"p":"33","a":4.62,"t":29.8,"s":"0.8"},{"p":"33","a":4.11,"t":30.2,"s":"0.7"},{"p":"33","a":3.98,"t":30.2,"s":"0.6"},{"p":"33","a":3.8,"t":30.5,"s":"0.5"},{"p":"33","a":3.74,"t":29.8,"s":"0.4"},{"p":"33","a":3.56,"t":30.5,"s":"0.3"}
]
},
"columns":3,
"spacing":0,
"bounds":"flush",
"align":"each",
"concat":[
{"width":321,"height":16,"data":{"name":"st"},"transform":[{"filter":"datum.p=='11' && datum.k=='E'"}],"view":{"fill":"#A0D8F2","stroke":"black"},"layer":[{"mark":{"type":"rect","color":"#2F6CB8"},"encoding":{"x":{"field":"lv","type":"nominal","scale":{"domain":["1.5","2.5","3.5"]},"axis":null}}},{"mark":{"type":"text","fontSize":15,"color":"#1a1a1a","baseline":"alphabetic","dy":7},"encoding":{"text":{"field":"lab"}}}]},
{"width":321,"height":16,"data":{"name":"st"},"transform":[{"filter":"datum.p=='12' && datum.k=='E'"}],"view":{"fill":"#A0D8F2","stroke":"black"},"layer":[{"mark":{"type":"rect","color":"#2F6CB8"},"encoding":{"x":{"field":"lv","type":"nominal","scale":{"domain":["1.5","2.5","3.5"]},"axis":null}}},{"mark":{"type":"text","fontSize":15,"color":"#1a1a1a","baseline":"alphabetic","dy":7},"encoding":{"text":{"field":"lab"}}}]},
{"width":321,"height":16,"data":{"name":"st"},"transform":[{"filter":"datum.p=='13' && datum.k=='E'"}],"view":{"fill":"#A0D8F2","stroke":"black"},"layer":[{"mark":{"type":"rect","color":"#2F6CB8"},"encoding":{"x":{"field":"lv","type":"nominal","scale":{"domain":["1.5","2.5","3.5"]},"axis":null}}},{"mark":{"type":"text","fontSize":15,"color":"#1a1a1a","baseline":"alphabetic","dy":7},"encoding":{"text":{"field":"lab"}}}]},
{"width":321,"height":16,"data":{"name":"st"},"transform":[{"filter":"datum.p=='11' && datum.k=='I'"}],"view":{"fill":"#FDF3B2","stroke":"black"},"layer":[{"mark":{"type":"rect","color":"#EE5C7B"},"encoding":{"x":{"field":"lv","type":"nominal","scale":{"domain":["customised","mixed","standard"]},"axis":null}}},{"mark":{"type":"text","fontSize":15,"color":"#1a1a1a","baseline":"alphabetic","dy":7},"encoding":{"text":{"field":"lab"}}}]},
{"width":321,"height":16,"data":{"name":"st"},"transform":[{"filter":"datum.p=='12' && datum.k=='I'"}],"view":{"fill":"#FDF3B2","stroke":"black"},"layer":[{"mark":{"type":"rect","color":"#EE5C7B"},"encoding":{"x":{"field":"lv","type":"nominal","scale":{"domain":["customised","mixed","standard"]},"axis":null}}},{"mark":{"type":"text","fontSize":15,"color":"#1a1a1a","baseline":"alphabetic","dy":7},"encoding":{"text":{"field":"lab"}}}]},
{"width":321,"height":16,"data":{"name":"st"},"transform":[{"filter":"datum.p=='13' && datum.k=='I'"}],"view":{"fill":"#FDF3B2","stroke":"black"},"layer":[{"mark":{"type":"rect","color":"#EE5C7B"},"encoding":{"x":{"field":"lv","type":"nominal","scale":{"domain":["customised","mixed","standard"]},"axis":null}}},{"mark":{"type":"text","fontSize":15,"color":"#1a1a1a","baseline":"alphabetic","dy":7},"encoding":{"text":{"field":"lab"}}}]},
{"width":321,"height":214,"view":{"fill":"#D3E7A1","stroke":"black"},
 "encoding":{"x":{"field":"a","type":"quantitative","scale":{"domain":[3.416,5.577],"nice":false,"zero":false},"axis":{"orient":"top","offset":32,"values":[3.5,4,4.5,5,5.5],"labels":false,"title":null}},
             "y":{"field":"t","type":"quantitative","scale":{"domain":[29.3,50.9],"nice":false,"zero":false},"axis":{"orient":"left","values":[30,35,40,45,50],"format":"d","labelPadding":1,"title":null}}},
 "layer":[
  {"data":{"name":"c"},"transform":[{"filter":"datum.p=='11' && indexof(datum.g,'a')==0"}],"mark":{"type":"area","clip":true},"encoding":{"y2":{"datum":50.9},"color":{"field":"g","type":"nominal","scale":{"domain":["a1","a2","a3","a4","a5","a6","a7","a8","a9","b1","b2","b3","b4","b5","b6","b7","b8"],"range":["#BBE1A4","#C7E4A2","#D3E7A1","#DEE597","#E9DE8C","#F0D584","#F4CC7E","#F6C57A","#F8C07A","#BBE1A4","#C7E4A2","#D3E7A1","#DEE597","#E9DE8C","#F0D584","#F4CC7E","#F6C57A"]},"legend":null}}},
  {"data":{"name":"c"},"transform":[{"filter":"datum.p=='11' && datum.e!=1"}],"mark":{"type":"line","color":"black","strokeWidth":1.8,"clip":true},"encoding":{"detail":{"field":"g"}}},
  {"data":{"name":"s"},"transform":[{"filter":"datum.p=='11' && datum.k=='c'"}],"mark":{"type":"line","stroke":"black","fill":"#CAE5A3","strokeWidth":1.8,"clip":true},"encoding":{"detail":{"field":"g"},"order":{"value":null}}},
  {"data":{"name":"s"},"transform":[{"filter":"datum.p=='11' && datum.k=='o'"}],"mark":{"type":"line","color":"black","strokeWidth":1.8,"clip":true},"encoding":{"detail":{"field":"g"},"order":{"value":null}}},
  {"data":{"name":"l"},"transform":[{"filter":"datum.p=='11'"}],"mark":{"type":"text","fontSize":16,"color":"#333"},"encoding":{"text":{"field":"s"}}}
 ]},
{"width":321,"height":214,"view":{"fill":"#ACDCA6","stroke":"black"},
 "encoding":{"x":{"field":"a","type":"quantitative","scale":{"domain":[3.416,5.577],"nice":false,"zero":false},"axis":{"orient":"top","offset":32,"values":[3.5,4,4.5,5,5.5],"format":".1f","labelPadding":0,"title":null}},
             "y":{"field":"t","type":"quantitative","scale":{"domain":[29.3,50.9],"nice":false,"zero":false},"axis":null}},
 "layer":[
  {"data":{"name":"c"},"transform":[{"filter":"datum.p=='12' && indexof(datum.g,'a')==0"}],"mark":{"type":"area","clip":true},"encoding":{"y2":{"datum":50.9},"color":{"field":"g","type":"nominal","scale":{"domain":["a1","a2","a3","a4","a5","a6","a7","a8","a9","b1","b2","b3","b4","b5","b6","b7","b8"],"range":["#BBE1A4","#C7E4A2","#D3E7A1","#DEE597","#E9DE8C","#F0D584","#F4CC7E","#F6C57A","#F8C07A","#BBE1A4","#C7E4A2","#D3E7A1","#DEE597","#E9DE8C","#F0D584","#F4CC7E","#F6C57A"]},"legend":null}}},
  {"data":{"name":"c"},"transform":[{"filter":"datum.p=='12' && indexof(datum.g,'b')==0"}],"mark":{"type":"area","clip":true},"encoding":{"y2":{"datum":29.3},"color":{"field":"g","type":"nominal","legend":null}}},
  {"data":{"name":"c"},"transform":[{"filter":"datum.p=='12' && datum.e!=1"}],"mark":{"type":"line","color":"black","strokeWidth":1.8,"clip":true},"encoding":{"detail":{"field":"g"}}},
  {"data":{"name":"l"},"transform":[{"filter":"datum.p=='12'"}],"mark":{"type":"text","fontSize":16,"color":"#333"},"encoding":{"text":{"field":"s"}}}
 ]},
{"width":321,"height":214,"view":{"fill":"#BBE1A4","stroke":"black"},
 "encoding":{"x":{"field":"a","type":"quantitative","scale":{"domain":[3.416,5.577],"nice":false,"zero":false},"axis":{"orient":"top","offset":32,"values":[3.5,4,4.5,5,5.5],"labels":false,"title":null}},
             "y":{"field":"t","type":"quantitative","scale":{"domain":[29.3,50.9],"nice":false,"zero":false},"axis":{"orient":"right","values":[30,35,40,45,50],"labels":false,"title":null}}},
 "layer":[
  {"data":{"name":"c"},"transform":[{"filter":"datum.p=='13' && indexof(datum.g,'a')==0"}],"mark":{"type":"area","clip":true},"encoding":{"y2":{"datum":50.9},"color":{"field":"g","type":"nominal","scale":{"domain":["a1","a2","a3","a4","a5","a6","a7","a8","a9","b1","b2","b3","b4","b5","b6","b7","b8"],"range":["#BBE1A4","#C7E4A2","#D3E7A1","#DEE597","#E9DE8C","#F0D584","#F4CC7E","#F6C57A","#F8C07A","#BBE1A4","#C7E4A2","#D3E7A1","#DEE597","#E9DE8C","#F0D584","#F4CC7E","#F6C57A"]},"legend":null}}},
  {"data":{"name":"c"},"transform":[{"filter":"datum.p=='13' && indexof(datum.g,'b')==0"}],"mark":{"type":"area","clip":true},"encoding":{"y2":{"datum":29.3},"color":{"field":"g","type":"nominal","legend":null}}},
  {"data":{"name":"c"},"transform":[{"filter":"datum.p=='13' && datum.e!=1"}],"mark":{"type":"line","color":"black","strokeWidth":1.8,"clip":true},"encoding":{"detail":{"field":"g"}}},
  {"data":{"name":"l"},"transform":[{"filter":"datum.p=='13'"}],"mark":{"type":"text","fontSize":16,"color":"#333"},"encoding":{"text":{"field":"s"}}},
  {"data":{"name":"cb"},"transform":[{"filter":"datum.m < 0"}],"mark":{"type":"point","size":0,"opacity":1,"filled":true},"encoding":{"fill":{"field":"m","type":"quantitative","scale":{"domain":[0,0.2,0.4,0.6,0.8,1],"range":["#F8BD76","#F5C97C","#EDDA88","#D8E69C","#C2E2A3","#A8DAA8"]},"legend":{"orient":"none","legendX":1033,"legendY":1,"direction":"vertical","gradientLength":741,"gradientThickness":20,"values":[0,0.2,0.4,0.6,0.8,1],"format":".1f","labelFontSize":12,"labelColor":"#333","labelOffset":10,"gradientStrokeColor":"#222","gradientStrokeWidth":1.3,"gradientOpacity":1,"title":null}}}}
 ]},
{"width":321,"height":16,"data":{"name":"st"},"transform":[{"filter":"datum.p=='21' && datum.k=='E'"}],"view":{"fill":"#A0D8F2","stroke":"black"},"layer":[{"mark":{"type":"rect","color":"#2F6CB8"},"encoding":{"x":{"field":"lv","type":"nominal","scale":{"domain":["1.5","2.5","3.5"]},"axis":null}}},{"mark":{"type":"text","fontSize":15,"color":"#1a1a1a","baseline":"alphabetic","dy":7},"encoding":{"text":{"field":"lab"}}}]},
{"width":321,"height":16,"data":{"name":"st"},"transform":[{"filter":"datum.p=='22' && datum.k=='E'"}],"view":{"fill":"#A0D8F2","stroke":"black"},"layer":[{"mark":{"type":"rect","color":"#2F6CB8"},"encoding":{"x":{"field":"lv","type":"nominal","scale":{"domain":["1.5","2.5","3.5"]},"axis":null}}},{"mark":{"type":"text","fontSize":15,"color":"#1a1a1a","baseline":"alphabetic","dy":7},"encoding":{"text":{"field":"lab"}}}]},
{"width":321,"height":16,"data":{"name":"st"},"transform":[{"filter":"datum.p=='23' && datum.k=='E'"}],"view":{"fill":"#A0D8F2","stroke":"black"},"layer":[{"mark":{"type":"rect","color":"#2F6CB8"},"encoding":{"x":{"field":"lv","type":"nominal","scale":{"domain":["1.5","2.5","3.5"]},"axis":null}}},{"mark":{"type":"text","fontSize":15,"color":"#1a1a1a","baseline":"alphabetic","dy":7},"encoding":{"text":{"field":"lab"}}}]},
{"width":321,"height":16,"data":{"name":"st"},"transform":[{"filter":"datum.p=='21' && datum.k=='I'"}],"view":{"fill":"#FDF3B2","stroke":"black"},"layer":[{"mark":{"type":"rect","color":"#EE5C7B"},"encoding":{"x":{"field":"lv","type":"nominal","scale":{"domain":["customised","mixed","standard"]},"axis":null}}},{"mark":{"type":"text","fontSize":15,"color":"#1a1a1a","baseline":"alphabetic","dy":7},"encoding":{"text":{"field":"lab"}}}]},
{"width":321,"height":16,"data":{"name":"st"},"transform":[{"filter":"datum.p=='22' && datum.k=='I'"}],"view":{"fill":"#FDF3B2","stroke":"black"},"layer":[{"mark":{"type":"rect","color":"#EE5C7B"},"encoding":{"x":{"field":"lv","type":"nominal","scale":{"domain":["customised","mixed","standard"]},"axis":null}}},{"mark":{"type":"text","fontSize":15,"color":"#1a1a1a","baseline":"alphabetic","dy":7},"encoding":{"text":{"field":"lab"}}}]},
{"width":321,"height":16,"data":{"name":"st"},"transform":[{"filter":"datum.p=='23' && datum.k=='I'"}],"view":{"fill":"#FDF3B2","stroke":"black"},"layer":[{"mark":{"type":"rect","color":"#EE5C7B"},"encoding":{"x":{"field":"lv","type":"nominal","scale":{"domain":["customised","mixed","standard"]},"axis":null}}},{"mark":{"type":"text","fontSize":15,"color":"#1a1a1a","baseline":"alphabetic","dy":7},"encoding":{"text":{"field":"lab"}}}]},
{"width":321,"height":214,"view":{"fill":"#D3E7A1","stroke":"black"},
 "encoding":{"x":{"field":"a","type":"quantitative","scale":{"domain":[3.416,5.577],"nice":false,"zero":false},"axis":null},
             "y":{"field":"t","type":"quantitative","scale":{"domain":[29.3,50.9],"nice":false,"zero":false},"axis":{"orient":"left","values":[30,35,40,45,50],"labels":false,"title":"Seeding Temperature (deg C)","titlePadding":33,"titleY":85}}},
 "layer":[
  {"data":{"name":"c"},"transform":[{"filter":"datum.p=='21' && indexof(datum.g,'a')==0"}],"mark":{"type":"area","clip":true},"encoding":{"y2":{"datum":50.9},"color":{"field":"g","type":"nominal","scale":{"domain":["a1","a2","a3","a4","a5","a6","a7","a8","a9","b1","b2","b3","b4","b5","b6","b7","b8"],"range":["#BBE1A4","#C7E4A2","#D3E7A1","#DEE597","#E9DE8C","#F0D584","#F4CC7E","#F6C57A","#F8C07A","#BBE1A4","#C7E4A2","#D3E7A1","#DEE597","#E9DE8C","#F0D584","#F4CC7E","#F6C57A"]},"legend":null}}},
  {"data":{"name":"c"},"transform":[{"filter":"datum.p=='21' && datum.e!=1"}],"mark":{"type":"line","color":"black","strokeWidth":1.8,"clip":true},"encoding":{"detail":{"field":"g"}}},
  {"data":{"name":"s"},"transform":[{"filter":"datum.p=='21' && datum.k=='c'"}],"mark":{"type":"line","stroke":"black","fill":"#CAE5A3","strokeWidth":1.8,"clip":true},"encoding":{"detail":{"field":"g"},"order":{"value":null}}},
  {"data":{"name":"s"},"transform":[{"filter":"datum.p=='21' && datum.k=='o'"}],"mark":{"type":"line","color":"black","strokeWidth":1.8,"clip":true},"encoding":{"detail":{"field":"g"},"order":{"value":null}}},
  {"data":{"name":"l"},"transform":[{"filter":"datum.p=='21'"}],"mark":{"type":"text","fontSize":16,"color":"#333"},"encoding":{"text":{"field":"s"}}}
 ]},
{"width":321,"height":214,"view":{"fill":"#ACDCA6","stroke":"black"},
 "encoding":{"x":{"field":"a","type":"quantitative","scale":{"domain":[3.416,5.577],"nice":false,"zero":false},"axis":null},
             "y":{"field":"t","type":"quantitative","scale":{"domain":[29.3,50.9],"nice":false,"zero":false},"axis":null}},
 "layer":[
  {"data":{"name":"c"},"transform":[{"filter":"datum.p=='22' && indexof(datum.g,'a')==0"}],"mark":{"type":"area","clip":true},"encoding":{"y2":{"datum":50.9},"color":{"field":"g","type":"nominal","scale":{"domain":["a1","a2","a3","a4","a5","a6","a7","a8","a9","b1","b2","b3","b4","b5","b6","b7","b8"],"range":["#BBE1A4","#C7E4A2","#D3E7A1","#DEE597","#E9DE8C","#F0D584","#F4CC7E","#F6C57A","#F8C07A","#BBE1A4","#C7E4A2","#D3E7A1","#DEE597","#E9DE8C","#F0D584","#F4CC7E","#F6C57A"]},"legend":null}}},
  {"data":{"name":"c"},"transform":[{"filter":"datum.p=='22' && indexof(datum.g,'b')==0"}],"mark":{"type":"area","clip":true},"encoding":{"y2":{"datum":29.3},"color":{"field":"g","type":"nominal","legend":null}}},
  {"data":{"name":"c"},"transform":[{"filter":"datum.p=='22' && datum.e!=1"}],"mark":{"type":"line","color":"black","strokeWidth":1.8,"clip":true},"encoding":{"detail":{"field":"g"}}},
  {"data":{"name":"l"},"transform":[{"filter":"datum.p=='22'"}],"mark":{"type":"text","fontSize":16,"color":"#333"},"encoding":{"text":{"field":"s"}}}
 ]},
{"width":321,"height":214,"view":{"fill":"#BBE1A4","stroke":"black"},
 "encoding":{"x":{"field":"a","type":"quantitative","scale":{"domain":[3.416,5.577],"nice":false,"zero":false},"axis":null},
             "y":{"field":"t","type":"quantitative","scale":{"domain":[29.3,50.9],"nice":false,"zero":false},"axis":{"orient":"right","values":[30,35,40,45,50],"format":"d","labelPadding":1,"title":null}}},
 "layer":[
  {"data":{"name":"c"},"transform":[{"filter":"datum.p=='23' && indexof(datum.g,'a')==0"}],"mark":{"type":"area","clip":true},"encoding":{"y2":{"datum":50.9},"color":{"field":"g","type":"nominal","scale":{"domain":["a1","a2","a3","a4","a5","a6","a7","a8","a9","b1","b2","b3","b4","b5","b6","b7","b8"],"range":["#BBE1A4","#C7E4A2","#D3E7A1","#DEE597","#E9DE8C","#F0D584","#F4CC7E","#F6C57A","#F8C07A","#BBE1A4","#C7E4A2","#D3E7A1","#DEE597","#E9DE8C","#F0D584","#F4CC7E","#F6C57A"]},"legend":null}}},
  {"data":{"name":"c"},"transform":[{"filter":"datum.p=='23' && indexof(datum.g,'b')==0"}],"mark":{"type":"area","clip":true},"encoding":{"y2":{"datum":29.3},"color":{"field":"g","type":"nominal","legend":null}}},
  {"data":{"name":"c"},"transform":[{"filter":"datum.p=='23' && datum.e!=1"}],"mark":{"type":"line","color":"black","strokeWidth":1.8,"clip":true},"encoding":{"detail":{"field":"g"}}},
  {"data":{"name":"l"},"transform":[{"filter":"datum.p=='23'"}],"mark":{"type":"text","fontSize":16,"color":"#333"},"encoding":{"text":{"field":"s"}}}
 ]},
{"width":321,"height":16,"data":{"name":"st"},"transform":[{"filter":"datum.p=='31' && datum.k=='E'"}],"view":{"fill":"#A0D8F2","stroke":"black"},"layer":[{"mark":{"type":"rect","color":"#2F6CB8"},"encoding":{"x":{"field":"lv","type":"nominal","scale":{"domain":["1.5","2.5","3.5"]},"axis":null}}},{"mark":{"type":"text","fontSize":15,"color":"#1a1a1a","baseline":"alphabetic","dy":7},"encoding":{"text":{"field":"lab"}}}]},
{"width":321,"height":16,"data":{"name":"st"},"transform":[{"filter":"datum.p=='32' && datum.k=='E'"}],"view":{"fill":"#A0D8F2","stroke":"black"},"layer":[{"mark":{"type":"rect","color":"#2F6CB8"},"encoding":{"x":{"field":"lv","type":"nominal","scale":{"domain":["1.5","2.5","3.5"]},"axis":null}}},{"mark":{"type":"text","fontSize":15,"color":"#1a1a1a","baseline":"alphabetic","dy":7},"encoding":{"text":{"field":"lab"}}}]},
{"width":321,"height":16,"data":{"name":"st"},"transform":[{"filter":"datum.p=='33' && datum.k=='E'"}],"view":{"fill":"#A0D8F2","stroke":"black"},"layer":[{"mark":{"type":"rect","color":"#2F6CB8"},"encoding":{"x":{"field":"lv","type":"nominal","scale":{"domain":["1.5","2.5","3.5"]},"axis":null}}},{"mark":{"type":"text","fontSize":15,"color":"#1a1a1a","baseline":"alphabetic","dy":7},"encoding":{"text":{"field":"lab"}}}]},
{"width":321,"height":16,"data":{"name":"st"},"transform":[{"filter":"datum.p=='31' && datum.k=='I'"}],"view":{"fill":"#FDF3B2","stroke":"black"},"layer":[{"mark":{"type":"rect","color":"#EE5C7B"},"encoding":{"x":{"field":"lv","type":"nominal","scale":{"domain":["customised","mixed","standard"]},"axis":null}}},{"mark":{"type":"text","fontSize":15,"color":"#1a1a1a","baseline":"alphabetic","dy":7},"encoding":{"text":{"field":"lab"}}}]},
{"width":321,"height":16,"data":{"name":"st"},"transform":[{"filter":"datum.p=='32' && datum.k=='I'"}],"view":{"fill":"#FDF3B2","stroke":"black"},"layer":[{"mark":{"type":"rect","color":"#EE5C7B"},"encoding":{"x":{"field":"lv","type":"nominal","scale":{"domain":["customised","mixed","standard"]},"axis":null}}},{"mark":{"type":"text","fontSize":15,"color":"#1a1a1a","baseline":"alphabetic","dy":7},"encoding":{"text":{"field":"lab"}}}]},
{"width":321,"height":16,"data":{"name":"st"},"transform":[{"filter":"datum.p=='33' && datum.k=='I'"}],"view":{"fill":"#FDF3B2","stroke":"black"},"layer":[{"mark":{"type":"rect","color":"#EE5C7B"},"encoding":{"x":{"field":"lv","type":"nominal","scale":{"domain":["customised","mixed","standard"]},"axis":null}}},{"mark":{"type":"text","fontSize":15,"color":"#1a1a1a","baseline":"alphabetic","dy":7},"encoding":{"text":{"field":"lab"}}}]},
{"width":321,"height":214,"view":{"fill":"#D3E7A1","stroke":"black"},
 "encoding":{"x":{"field":"a","type":"quantitative","scale":{"domain":[3.416,5.577],"nice":false,"zero":false},"axis":{"orient":"bottom","values":[3.5,4,4.5,5,5.5],"format":".1f","labelPadding":3,"title":null}},
             "y":{"field":"t","type":"quantitative","scale":{"domain":[29.3,50.9],"nice":false,"zero":false},"axis":{"orient":"left","values":[30,35,40,45,50],"format":"d","labelPadding":1,"title":null}}},
 "layer":[
  {"data":{"name":"c"},"transform":[{"filter":"datum.p=='31' && indexof(datum.g,'a')==0"}],"mark":{"type":"area","clip":true},"encoding":{"y2":{"datum":50.9},"color":{"field":"g","type":"nominal","scale":{"domain":["a1","a2","a3","a4","a5","a6","a7","a8","a9","b1","b2","b3","b4","b5","b6","b7","b8"],"range":["#BBE1A4","#C7E4A2","#D3E7A1","#DEE597","#E9DE8C","#F0D584","#F4CC7E","#F6C57A","#F8C07A","#BBE1A4","#C7E4A2","#D3E7A1","#DEE597","#E9DE8C","#F0D584","#F4CC7E","#F6C57A"]},"legend":null}}},
  {"data":{"name":"c"},"transform":[{"filter":"datum.p=='31' && datum.e!=1"}],"mark":{"type":"line","color":"black","strokeWidth":1.8,"clip":true},"encoding":{"detail":{"field":"g"}}},
  {"data":{"name":"s"},"transform":[{"filter":"datum.p=='31' && datum.k=='c'"}],"mark":{"type":"line","stroke":"black","fill":"#CAE5A3","strokeWidth":1.8,"clip":true},"encoding":{"detail":{"field":"g"},"order":{"value":null}}},
  {"data":{"name":"s"},"transform":[{"filter":"datum.p=='31' && datum.k=='o'"}],"mark":{"type":"line","color":"black","strokeWidth":1.8,"clip":true},"encoding":{"detail":{"field":"g"},"order":{"value":null}}},
  {"data":{"name":"l"},"transform":[{"filter":"datum.p=='31'"}],"mark":{"type":"text","fontSize":16,"color":"#333"},"encoding":{"text":{"field":"s"}}}
 ]},
{"width":321,"height":214,"view":{"fill":"#ACDCA6","stroke":"black"},
 "encoding":{"x":{"field":"a","type":"quantitative","scale":{"domain":[3.416,5.577],"nice":false,"zero":false},"axis":{"orient":"bottom","values":[3.5,4,4.5,5,5.5],"labels":false,"title":"Acetone (vol)","titlePadding":41}},
             "y":{"field":"t","type":"quantitative","scale":{"domain":[29.3,50.9],"nice":false,"zero":false},"axis":null}},
 "layer":[
  {"data":{"name":"c"},"transform":[{"filter":"datum.p=='32' && indexof(datum.g,'a')==0"}],"mark":{"type":"area","clip":true},"encoding":{"y2":{"datum":50.9},"color":{"field":"g","type":"nominal","scale":{"domain":["a1","a2","a3","a4","a5","a6","a7","a8","a9","b1","b2","b3","b4","b5","b6","b7","b8"],"range":["#BBE1A4","#C7E4A2","#D3E7A1","#DEE597","#E9DE8C","#F0D584","#F4CC7E","#F6C57A","#F8C07A","#BBE1A4","#C7E4A2","#D3E7A1","#DEE597","#E9DE8C","#F0D584","#F4CC7E","#F6C57A"]},"legend":null}}},
  {"data":{"name":"c"},"transform":[{"filter":"datum.p=='32' && indexof(datum.g,'b')==0"}],"mark":{"type":"area","clip":true},"encoding":{"y2":{"datum":29.3},"color":{"field":"g","type":"nominal","legend":null}}},
  {"data":{"name":"c"},"transform":[{"filter":"datum.p=='32' && datum.e!=1"}],"mark":{"type":"line","color":"black","strokeWidth":1.8,"clip":true},"encoding":{"detail":{"field":"g"}}},
  {"data":{"name":"l"},"transform":[{"filter":"datum.p=='32'"}],"mark":{"type":"text","fontSize":16,"color":"#333"},"encoding":{"text":{"field":"s"}}}
 ]},
{"width":321,"height":214,"view":{"fill":"#BBE1A4","stroke":"black"},
 "encoding":{"x":{"field":"a","type":"quantitative","scale":{"domain":[3.416,5.577],"nice":false,"zero":false},"axis":{"orient":"bottom","values":[3.5,4,4.5,5,5.5],"format":".1f","labelPadding":3,"title":null}},
             "y":{"field":"t","type":"quantitative","scale":{"domain":[29.3,50.9],"nice":false,"zero":false},"axis":{"orient":"right","values":[30,35,40,45,50],"labels":false,"title":null}}},
 "layer":[
  {"data":{"name":"c"},"transform":[{"filter":"datum.p=='33' && indexof(datum.g,'a')==0"}],"mark":{"type":"area","clip":true},"encoding":{"y2":{"datum":50.9},"color":{"field":"g","type":"nominal","scale":{"domain":["a1","a2","a3","a4","a5","a6","a7","a8","a9","b1","b2","b3","b4","b5","b6","b7","b8"],"range":["#BBE1A4","#C7E4A2","#D3E7A1","#DEE597","#E9DE8C","#F0D584","#F4CC7E","#F6C57A","#F8C07A","#BBE1A4","#C7E4A2","#D3E7A1","#DEE597","#E9DE8C","#F0D584","#F4CC7E","#F6C57A"]},"legend":null}}},
  {"data":{"name":"c"},"transform":[{"filter":"datum.p=='33' && indexof(datum.g,'b')==0"}],"mark":{"type":"area","clip":true},"encoding":{"y2":{"datum":29.3},"color":{"field":"g","type":"nominal","legend":null}}},
  {"data":{"name":"c"},"transform":[{"filter":"datum.p=='33' && datum.e!=1"}],"mark":{"type":"line","color":"black","strokeWidth":1.8,"clip":true},"encoding":{"detail":{"field":"g"}}},
  {"data":{"name":"l"},"transform":[{"filter":"datum.p=='33'"}],"mark":{"type":"text","fontSize":16,"color":"#333"},"encoding":{"text":{"field":"s"}}}
 ]}
]
}
